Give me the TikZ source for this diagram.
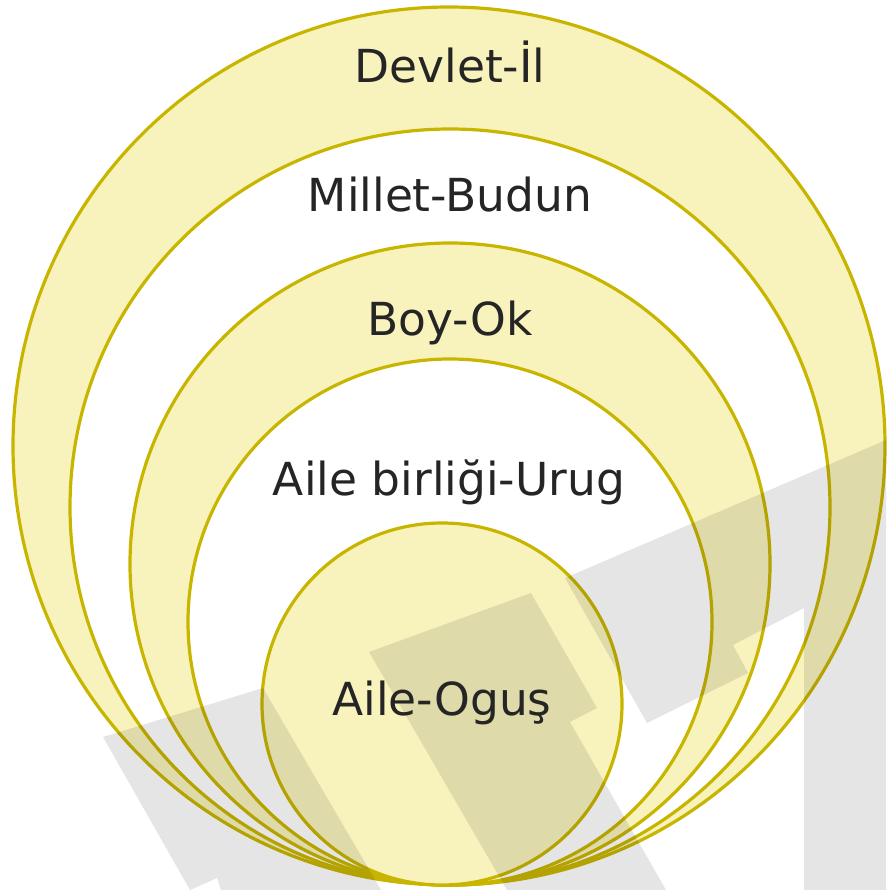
\documentclass[tikz,border=0pt]{standalone}
\usepackage{fontspec}
\setmainfont{DejaVu Sans}
\definecolor{ringfill}{HTML}{F8F3BD}
\definecolor{ringline}{HTML}{C8B500}
\definecolor{txt}{HTML}{252525}
\begin{document}
\begin{tikzpicture}[x=1pt,y=-1pt,
  ring/.style={draw=ringline, line width=3.2pt},
  lbl/.style={text=txt, inner sep=0pt, anchor=base, font=\fontsize{45.5}{50}\selectfont},
  wmark/.style={fill=black, fill opacity=0.1}]
\useasboundingbox[fill=white] (0,0) rectangle (886,890);
% nested rings, all touching at the bottom
\draw[ring, fill=ringfill] (449,446) ellipse [x radius=436, y radius=439];
\draw[ring, fill=white]    (450,507) ellipse [x radius=380, y radius=378];
\draw[ring, fill=ringfill] (450,564) ellipse [x radius=320, y radius=321];
\draw[ring, fill=white]    (450,622) ellipse [x radius=262, y radius=263];
\draw[ring, fill=ringfill] (442,704) ellipse [x radius=180, y radius=181];
% watermark
\fill[wmark] (103,737) -- (263,688) -- (381,890) -- (221,890) -- (217,878) -- (190,890) -- cycle;
\fill[wmark] (369,652) -- (531,593) -- (597,708) -- (570,722) -- (666,890) -- (507,890) -- cycle;
\fill[wmark] (565,578) -- (886,440) -- (886,890) -- (804,890) -- (804,608) -- (733,645) -- (748,673) -- (647,723) -- cycle;
% labels
\node[lbl] (devlet) at (450,83) {Devlet-İl};
\node[lbl] (millet) at (450,212) {Millet-Budun};
\node[lbl] (boy) at (450,335) {Boy-Ok};
\node[lbl] (urug) at (449,495) {Aile birliği-Urug};
\node[lbl] (ogus) at (442,715) {Aile-Oguş};
\end{tikzpicture}
\end{document}
